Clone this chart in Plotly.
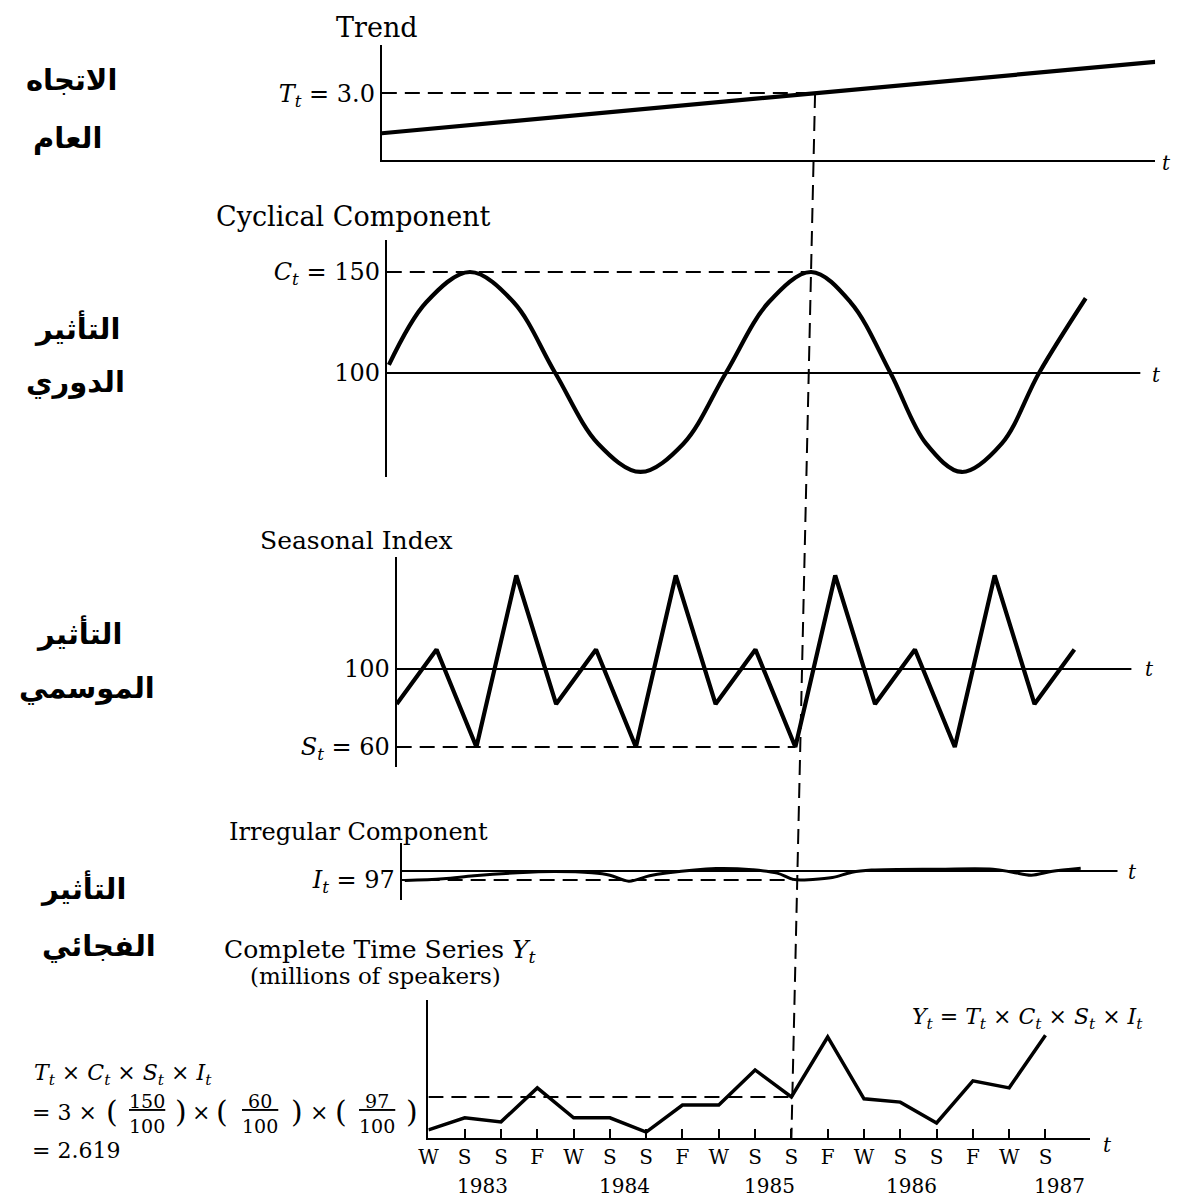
import plotly.graph_objects as go

# ------------------------------------------------------------------ data
quarter_labels = ["W", "S", "S", "F", "W", "S", "S", "F", "W", "S",
                  "S", "F", "W", "S", "S", "F", "W", "S"]
quarter_index = [0, 1, 2, 3, 4, 5, 6, 7, 8, 9, 10, 11, 12, 13, 14, 15, 16, 17]
year_labels = ["1983", "1984", "1985", "1986", "1987"]

trend_t = [0.0, 17.85]
trend_vals = [1.2, 4.4]

cyc_t = [0.05, 0.93, 1.96, 2.99, 3.97, 4.98, 5.98, 6.99, 7.99, 9.0,
         10.0, 10.93, 11.87, 12.71, 13.55, 14.49, 15.37, 16.47]
cyc_vals = [104, 135, 150, 135, 100, 65, 51, 65, 100, 135,
            150, 135, 100, 65, 51, 65, 100, 137]

seasonal_vals = [82, 110, 60, 148, 82, 110, 60, 148, 82, 110,
                 60, 148, 82, 110, 60, 148, 82, 110]

irr_t = [0.08, 1.06, 1.85, 2.96, 3.9, 4.86, 5.32, 5.8, 6.33, 6.76, 8.03, 8.96,
         9.59, 10.0, 10.5, 11.0, 11.5, 12.0, 13.7, 15.1, 15.6, 16.08, 16.58, 17.34]
irr_vals = [96.8, 97.4, 98.4, 99.4, 99.8, 99.4, 98.6, 96.6, 98.4, 99.3, 100.8, 100.4,
            99.3, 97.2, 97.2, 97.8, 99.6, 100.3, 100.6, 100.6, 99.6, 98.6, 99.8, 100.9]

series_vals = [1.72, 2.05, 1.94, 2.87, 2.05, 2.05, 1.66, 2.40, 2.40, 3.36,
               2.62, 4.26, 2.57, 2.48, 1.91, 3.06, 2.87, 4.31]

marker_t = 10
T_at, C_at, S_at, I_at, Y_at = 3.0, 150, 60, 97, 2.619

# ------------------------------------------------------------------ layout geometry
W, H = 1178, 1198
SERIF = "DejaVu Serif"
ARAB = "DejaVu Sans"

panels = {
    1: dict(x=(375, 1155), y=(45, 160), xr=(0, 17.85), yr=(0, 5.157)),
    2: dict(x=(380, 1140), y=(240, 477), xr=(0, 17.757), yr=(48.51, 165.84)),
    3: dict(x=(390, 1131), y=(557, 767), xr=(0, 18.43), yr=(49.74, 157.44)),
    4: dict(x=(395, 1117), y=(843, 900), xr=(0, 18.28), yr=(90.33, 109.33)),
    5: dict(x=(422, 1089), y=(1000, 1138), xr=(0, 18.22), yr=(1.5, 5.27)),
}


def px(p):
    return p / W


def py(p):
    return 1 - p / H


def to_paper(n, t, v):
    p = panels[n]
    fx = (t - p["xr"][0]) / (p["xr"][1] - p["xr"][0])
    fy = (v - p["yr"][0]) / (p["yr"][1] - p["yr"][0])
    X = p["x"][0] + fx * (p["x"][1] - p["x"][0])
    Y = p["y"][1] - fy * (p["y"][1] - p["y"][0])
    return px(X), py(Y)


fig = go.Figure()
LW = 4.2
fig.add_trace(go.Scatter(x=trend_t, y=trend_vals, mode="lines",
                         line=dict(color="black", width=LW), xaxis="x", yaxis="y"))
fig.add_trace(go.Scatter(x=cyc_t, y=cyc_vals, mode="lines",
                         line=dict(color="black", width=LW, shape="spline", smoothing=1.0),
                         xaxis="x2", yaxis="y2"))
fig.add_trace(go.Scatter(x=quarter_index, y=seasonal_vals, mode="lines",
                         line=dict(color="black", width=LW), xaxis="x3", yaxis="y3"))
fig.add_trace(go.Scatter(x=irr_t, y=irr_vals, mode="lines",
                         line=dict(color="black", width=3, shape="spline", smoothing=1.0),
                         xaxis="x4", yaxis="y4"))
fig.add_trace(go.Scatter(x=quarter_index, y=series_vals, mode="lines",
                         line=dict(color="black", width=3.5), xaxis="x5", yaxis="y5"))

ytick = {
    1: ([T_at], ["<i>T<sub>t</sub></i> = 3.0"]),
    2: ([C_at, 100], ["<i>C<sub>t</sub></i> = 150", "100"]),
    3: ([100, S_at], ["100", "<i>S<sub>t</sub></i> = 60"]),
    4: ([I_at], ["<i>I<sub>t</sub></i> = 97"]),
    5: ([], []),
}

layout = dict(width=W, height=H, margin=dict(l=0, r=0, t=0, b=0),
              paper_bgcolor="white", plot_bgcolor="white", showlegend=False,
              font=dict(family=SERIF, color="black"))
for n, p in panels.items():
    sx = "" if n == 1 else str(n)
    xa = dict(domain=[px(p["x"][0]), px(p["x"][1])], range=list(p["xr"]),
              anchor="y" + sx, showgrid=False, zeroline=False, fixedrange=True,
              showline=(n in (1, 5)), linecolor="black", linewidth=2,
              showticklabels=False, ticks="")
    if n == 5:
        xa.update(tickvals=quarter_index, ticktext=quarter_labels, showticklabels=True,
                  ticks="inside", ticklen=9, tickwidth=2, tickcolor="black",
                  tickfont=dict(family=SERIF, size=20, color="black"))
    ya = dict(domain=[py(p["y"][1]), py(p["y"][0])], range=list(p["yr"]),
              anchor="x" + sx, showgrid=False, zeroline=False, fixedrange=True,
              showline=True, linecolor="black", linewidth=2, ticks="",
              tickvals=ytick[n][0], ticktext=ytick[n][1],
              tickfont=dict(family=SERIF, size=24, color="black"))
    layout["xaxis" + sx] = xa
    layout["yaxis" + sx] = ya
fig.update_layout(**layout)

shapes = []
DASH = "15px,8px"
# baseline (100) lines
for n in (2, 3, 4):
    shapes.append(dict(type="line", xref=f"x{n} domain", yref=f"y{n}", x0=0, x1=1,
                       y0=100, y1=100, line=dict(color="black", width=2)))
# horizontal dashed guides
for n, v in ((1, T_at), (2, C_at), (3, S_at), (4, I_at), (5, Y_at)):
    sx = "" if n == 1 else str(n)
    shapes.append(dict(type="line", xref="x" + sx, yref="y" + sx, x0=0, x1=marker_t,
                       y0=v, y1=v, line=dict(color="black", width=2, dash=DASH)))
# vertical dashed guide through all panels
x0p, y0p = to_paper(1, marker_t, T_at)
x1p, y1p = to_paper(5, marker_t, panels[5]["yr"][0])
shapes.append(dict(type="line", xref="paper", yref="paper", x0=x0p, y0=y0p, x1=x1p, y1=y1p,
                   line=dict(color="black", width=2, dash=DASH)))
fig.update_layout(shapes=shapes)

ann = []


def text(x, y, s, size, xanchor="left", family=SERIF, **kw):
    ann.append(dict(x=px(x), y=py(y), xref="paper", yref="paper", text=s, showarrow=False,
                    xanchor=xanchor, yanchor="middle",
                    font=dict(family=family, size=size, color="black"), **kw))


# panel titles
text(370, 27, "Trend", 27, "center")
text(206, 217, "Cyclical Component", 27)
text(250, 540, "Seasonal Index", 25)
text(219, 832, "Irregular Component", 24)
text(214, 951, "Complete Time Series <i>Y<sub>t</sub></i>", 25)
text(240, 976, "(millions of speakers)", 23)

# t labels at axis ends
for (x, y) in ((1160, 163), (1150, 375), (1143, 669), (1126, 872), (1100, 1145)):
    text(x, y, "<i>t</i>", 20)

# Arabic side labels
for (x, y, s) in ((62, 80, "الاتجاه"), (58, 138, "العام"),
                  (68, 328, "التأثير"), (66, 382, "الدوري"),
                  (70, 633, "التأثير"), (78, 688, "الموسمي"),
                  (74, 888, "التأثير"), (90, 946, "الفجائي")):
    text(x, y, "<b>" + s + "</b>", 29, "center", family=ARAB)

# composite equation (upper right of bottom panel)
text(908, 1018, "<i>Y<sub>t</sub></i> = <i>T<sub>t</sub></i> × <i>C<sub>t</sub></i> × "
     "<i>S<sub>t</sub></i> × <i>I<sub>t</sub></i>", 22)

# worked example at the left
text(22, 1074, "<i>T<sub>t</sub></i> × <i>C<sub>t</sub></i> × <i>S<sub>t</sub></i> × "
     "<i>I<sub>t</sub></i>", 22)
text(20, 1112, "= 3 ×", 22)
for xp in (103, 214, 334):
    text(xp, 1111, "(", 30, "center")
for xp in (172, 289, 405):
    text(xp, 1111, ")", 30, "center")
text(193, 1112, "×", 22, "center")
text(312, 1112, "×", 22, "center")
for xc, num in ((138, "150"), (252, "\u00a060\u00a0"), (370, "\u00a097\u00a0")):
    text(xc, 1113, "<u>" + num + "</u><br>100", 19, "center")
text(20, 1150, "= 2.619", 22)

# year labels under the quarter ticks
year_pos = [1.5, 5.4, 9.4, 13.3, 17.4]
for yp, lab in zip(year_pos, year_labels):
    ann.append(dict(x=yp, y=py(1186), xref="x5", yref="paper", text=lab, showarrow=False,
                    xanchor="center", yanchor="middle",
                    font=dict(family=SERIF, size=20, color="black")))

fig.update_layout(annotations=ann)
fig.write_html("out.html", config={"displayModeBar": False},
               post_script="document.body.style.margin='0';"
                           "document.body.style.overflow='hidden';")
